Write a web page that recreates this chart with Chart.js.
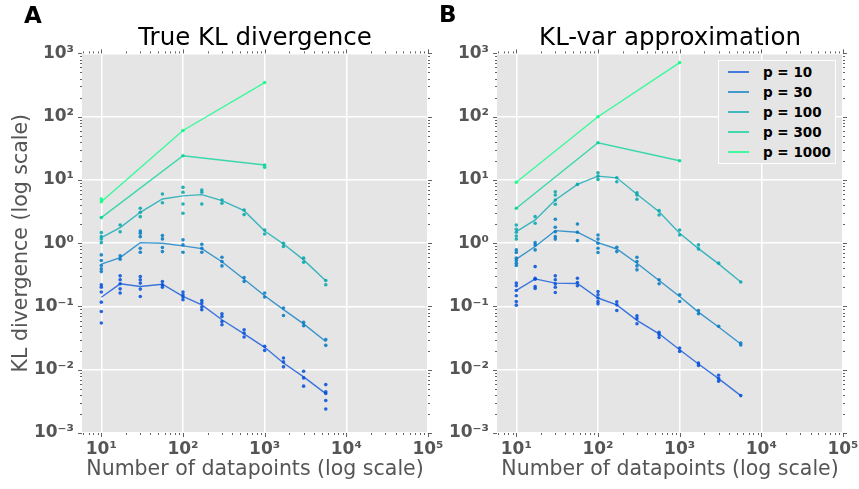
<!DOCTYPE html>
<html>
<head>
<meta charset="utf-8">
<script src="https://cdn.jsdelivr.net/npm/chart.js@4.4.1/dist/chart.umd.min.js"></script>
<style>
html,body{margin:0;padding:0;background:#fff;overflow:hidden;width:859px;height:489px;}
body{position:relative;font-family:"DejaVu Sans",sans-serif;}
#ca{position:absolute;left:0;top:0;}
#cb{position:absolute;left:430px;top:0;}
.panel{position:absolute;font-weight:bold;font-size:23px;line-height:23px;color:#000;}
#legend{position:absolute;left:718px;top:60px;width:116px;height:102px;background:#E5E5E5;border:1px solid #fff;}
.lrow{position:absolute;left:0;height:20px;width:116px;}
.lline{position:absolute;left:9px;top:9px;width:21px;height:2px;}
.ltxt{position:absolute;left:44px;top:0;line-height:20px;font-size:13.5px;font-weight:bold;color:#000;white-space:nowrap;}
</style>
</head>
<body>
<canvas id="ca" width="450" height="489"></canvas>
<canvas id="cb" width="440" height="489"></canvas>
<div class="panel" style="left:24px;top:4px;">A</div>
<div class="panel" style="left:439px;top:3px;">B</div>
<div id="legend"></div>
<script>
// ---------------- data ----------------
const N = [10, 17, 30, 56, 100, 170, 300, 560, 1000, 1700, 3000, 5600];
const N3 = [10, 100, 1000];
const seriesLabels = ['p = 10', 'p = 30', 'p = 100', 'p = 300', 'p = 1000'];
const seriesColors = [[0,77,217],[0,121,195],[0,166,173],[0,210,151],[0,255,128]];
const xTickValues = [10, 100, 1000, 10000, 100000];
const xTickLabels = ['10\u00B9', '10\u00B2', '10\u00B3', '10\u2074', '10\u2075'];
const yTickValues = [1e-3, 1e-2, 1e-1, 1, 10, 100, 1000];
const yTickLabels = ['10\u207B\u00B3', '10\u207B\u00B2', '10\u207B\u00B9', '10\u2070', '10\u00B9', '10\u00B2', '10\u00B3'];

// Panel A: True KL divergence (line = mean, points = individual runs)
const A_mean_p10 = [0.14, 0.228, 0.207, 0.225, 0.144, 0.106, 0.0617, 0.037, 0.0226, 0.0128, 0.0077, 0.0042];
const A_mean_p30 = [0.467, 0.593, 1.02, 1.0, 0.906, 0.82, 0.51, 0.27, 0.148, 0.089, 0.053, 0.028];
const A_mean_p100 = [1.22, 1.76, 3.08, 5.0, 5.6, 5.85, 4.7, 3.27, 1.56, 0.97, 0.545, 0.254];
const A_mean_p300 = [2.54, 24.1, 17.2];
const A_mean_p1000 = [4.53, 60.5, 346];

const A_pts_p10 = [
  [0.22, 0.202, 0.169, 0.117, 0.0834, 0.0547],
  [0.305, 0.264, 0.228, 0.19, 0.163],
  [0.297, 0.264, 0.234, 0.188, 0.144],
  [0.248, 0.22, 0.202],
  [0.169, 0.153, 0.141, 0.128],
  [0.124, 0.113, 0.098, 0.0887],
  [0.0767, 0.0695, 0.058, 0.0514],
  [0.0429, 0.038, 0.0329],
  [0.0234, 0.0202],
  [0.0153, 0.0133, 0.0111],
  [0.00944, 0.00743, 0.0055],
  [0.00582, 0.00447, 0.0042, 0.00326, 0.0024]
];
const A_pts_p30 = [
  [0.653, 0.532, 0.443, 0.394, 0.356],
  [0.631, 0.56],
  [1.56, 1.44, 1.27, 0.834, 0.721],
  [1.32, 1.17, 0.853, 0.737],
  [1.13, 0.94, 0.721],
  [0.964, 0.834, 0.721],
  [0.601, 0.513, 0.438],
  [0.286, 0.248],
  [0.163, 0.141],
  [0.0944, 0.0721],
  [0.056, 0.0496],
  [0.0299, 0.0243]
];
const A_pts_p100 = [
  [1.47, 1.27, 1.16, 1.02],
  [1.94, 1.52],
  [3.56, 3.08, 2.63],
  [6.0, 4.37],
  [7.64, 6.37, 4.17, 2.97],
  [6.93, 6.37, 4.17],
  [4.82, 4.28],
  [3.35, 2.83],
  [1.62, 1.4],
  [1.0, 0.885],
  [0.58, 0.501],
  [0.257, 0.22]
];
const A_pts_p300 = [[2.54], [24.1], [17.2, 15.8]];
const A_pts_p1000 = [[5.0, 4.53], [60.5], [346]];

// Panel B: KL-var approximation
const B_mean_p10 = [0.179, 0.273, 0.234, 0.231, 0.136, 0.106, 0.0602, 0.037, 0.0207, 0.0123, 0.00724, 0.0039];
const B_mean_p30 = [0.56, 0.885, 1.58, 1.49, 1.02, 0.81, 0.483, 0.257, 0.144, 0.0815, 0.0473, 0.0255];
const B_mean_p100 = [1.52, 2.33, 4.82, 8.5, 11.5, 10.8, 5.93, 3.15, 1.44, 0.82, 0.471, 0.243];
const B_mean_p300 = [3.56, 38.6, 20.1];
const B_mean_p1000 = [9.17, 99.6, 716];

const B_pts_p10 = [
  [0.234, 0.212, 0.179, 0.148, 0.12, 0.105],
  [0.427, 0.28, 0.27, 0.207, 0.192],
  [0.305, 0.264, 0.228, 0.202, 0.166],
  [0.28, 0.239, 0.212],
  [0.172, 0.153, 0.136, 0.12, 0.11],
  [0.119, 0.106, 0.0865],
  [0.0713, 0.0647, 0.0533],
  [0.0389, 0.0358, 0.0324],
  [0.0221, 0.0195],
  [0.0128, 0.0117],
  [0.00816, 0.00724, 0.00656],
  [0.0039]
];
const B_pts_p30 = [
  [0.784, 0.711, 0.58, 0.532, 0.484, 0.443],
  [1.02, 0.94, 0.784],
  [2.39, 1.79, 1.52, 1.27, 1.16],
  [2.01, 1.49, 1.1],
  [1.35, 1.16, 1.0, 0.834, 0.711],
  [0.865, 0.737],
  [0.601, 0.513, 0.438, 0.379],
  [0.264, 0.228],
  [0.153, 0.12],
  [0.0865, 0.0767],
  [0.0487],
  [0.0265, 0.0246]
];
const B_pts_p100 = [
  [1.94, 1.66, 1.49, 1.3, 1.16],
  [2.63, 2.07],
  [6.5, 5.78, 4.82, 4.12],
  [8.5],
  [13.0, 11.5, 10.2],
  [10.8, 9.37],
  [6.28, 5.78, 4.94],
  [3.27, 2.79],
  [1.62, 1.35],
  [0.94, 0.813],
  [0.484],
  [0.243]
];
const B_pts_p300 = [[3.56], [38.6], [20.1]];
const B_pts_p1000 = [[9.17], [99.6], [716]];

// ---------------- drawing ----------------
const FONT = 'DejaVu Sans';
const rgba = (c, a) => `rgba(${c[0]},${c[1]},${c[2]},${a})`;

const bgPlugin = {
  id: 'plotBg',
  beforeDraw(chart) {
    const {ctx, chartArea: a} = chart;
    ctx.save();
    ctx.fillStyle = '#E5E5E5';
    ctx.fillRect(a.left, a.top, a.right - a.left, a.bottom - a.top);
    ctx.restore();
  }
};

const edgeTicksPlugin = {
  id: 'edgeTicks',
  afterDraw(chart) {
    const {ctx, chartArea: a, scales} = chart;
    ctx.save();
    ctx.strokeStyle = 'rgba(70,70,70,0.85)';
    ctx.lineWidth = 1;
    const xs = scales.x, ys = scales.y;
    for (let e = -4; e <= 5; e++) {
      for (let k = 1; k <= 9; k++) {
        const v = k * Math.pow(10, e);
        const len = k === 1 ? 4 : 2;
        if (v >= xs.min * 0.999 && v <= xs.max * 1.001) {
          const px = Math.round(xs.getPixelForValue(v)) + 0.5;
          ctx.beginPath();
          ctx.moveTo(px, a.bottom); ctx.lineTo(px, a.bottom + len);
          ctx.moveTo(px, a.top); ctx.lineTo(px, a.top - len);
          ctx.stroke();
        }
        if (v >= ys.min * 0.999 && v <= ys.max * 1.001) {
          const py = Math.round(ys.getPixelForValue(v)) + 0.5;
          ctx.beginPath();
          ctx.moveTo(a.left, py); ctx.lineTo(a.left - len, py);
          ctx.moveTo(a.right, py); ctx.lineTo(a.right + len, py);
          ctx.stroke();
        }
      }
    }
    ctx.restore();
  }
};

function makeChart(id, titleText, means, pts, cfg) {
  const datasets = [];
  seriesLabels.forEach((lab, i) => {
    const xs = i < 3 ? N : N3;
    const col = seriesColors[i];
    datasets.push({
      type: 'line', label: lab,
      data: xs.map((n, j) => ({x: n, y: means[i][j]})),
      borderColor: rgba(col, 0.75), borderWidth: 1.4,
      pointRadius: 0, fill: false, tension: 0, order: 1
    });
    const sp = [];
    pts[i].forEach((arr, j) => arr.forEach(v => sp.push({x: xs[j], y: v})));
    datasets.push({
      type: 'scatter', label: lab + ' runs', data: sp,
      backgroundColor: rgba(col, 0.85), borderWidth: 0,
      pointRadius: 1.8, order: 0
    });
  });

  return new Chart(document.getElementById(id), {
    type: 'scatter',
    data: {datasets},
    options: {
      responsive: false, animation: false, events: [],
      layout: {padding: {left: 0, right: cfg.padRight, top: 0, bottom: 0}},
      plugins: {
        legend: {display: false},
        tooltip: {enabled: false},
        title: {
          display: true, text: titleText, fullSize: false,
          font: {family: FONT, size: 24.5, weight: 'normal'}, color: '#000',
          padding: {top: 24, bottom: 0}
        }
      },
      scales: {
        x: {
          type: 'logarithmic', position: 'bottom', min: 5.8, max: 1e5, bounds: 'data',
          afterBuildTicks: s => { s.ticks = xTickValues.map(v => ({value: v})); },
          ticks: {
            autoSkip: false, maxRotation: 0, minRotation: 0,
            callback: (v, i) => xTickLabels[i],
            font: {family: FONT, size: 17, weight: 'bold'}, color: '#555', padding: 6
          },
          grid: {color: '#fff', lineWidth: 1.5, drawTicks: false},
          border: {display: false},
          title: {
            display: true, text: 'Number of datapoints (log scale)',
            font: {family: FONT, size: 20.5, weight: 'normal'}, color: '#555',
            padding: {top: 0, bottom: 7}
          },
          afterFit: s => { s.height = 56; s.paddingLeft = 0; s.paddingRight = 0; }
        },
        y: {
          type: 'logarithmic', position: 'left', min: 1e-3, max: 1e3, bounds: 'data',
          afterBuildTicks: s => { s.ticks = yTickValues.map(v => ({value: v})); },
          ticks: {
            autoSkip: false,
            callback: (v, i) => yTickLabels[i],
            font: {family: FONT, size: 17, weight: 'bold'}, color: '#555', padding: 8
          },
          grid: {color: '#fff', lineWidth: 1.5, drawTicks: false},
          border: {display: false},
          title: {
            display: cfg.yTitle, text: 'KL divergence (log scale)',
            font: {family: FONT, size: 20.5, weight: 'normal'}, color: '#555',
            padding: {top: 9, bottom: 0}
          },
          afterFit: s => { s.width = cfg.yWidth; s.paddingTop = 0; s.paddingBottom = 0; }
        }
      }
    },
    plugins: [bgPlugin, edgeTicksPlugin]
  });
}

makeChart('ca', 'True KL divergence',
  [A_mean_p10, A_mean_p30, A_mean_p100, A_mean_p300, A_mean_p1000],
  [A_pts_p10, A_pts_p30, A_pts_p100, A_pts_p300, A_pts_p1000],
  {padRight: 22, yWidth: 82, yTitle: true});

makeChart('cb', 'KL-var approximation',
  [B_mean_p10, B_mean_p30, B_mean_p100, B_mean_p300, B_mean_p1000],
  [B_pts_p10, B_pts_p30, B_pts_p100, B_pts_p300, B_pts_p1000],
  {padRight: 27, yWidth: 67, yTitle: false});

// legend
const legend = document.getElementById('legend');
seriesLabels.forEach((lab, i) => {
  const row = document.createElement('div');
  row.className = 'lrow';
  row.style.top = (1 + i * 20) + 'px';
  const ln = document.createElement('div');
  ln.className = 'lline';
  ln.style.background = rgba(seriesColors[i], 0.7);
  const tx = document.createElement('div');
  tx.className = 'ltxt';
  tx.textContent = lab;
  row.appendChild(ln); row.appendChild(tx);
  legend.appendChild(row);
});
</script>
</body>
</html>
